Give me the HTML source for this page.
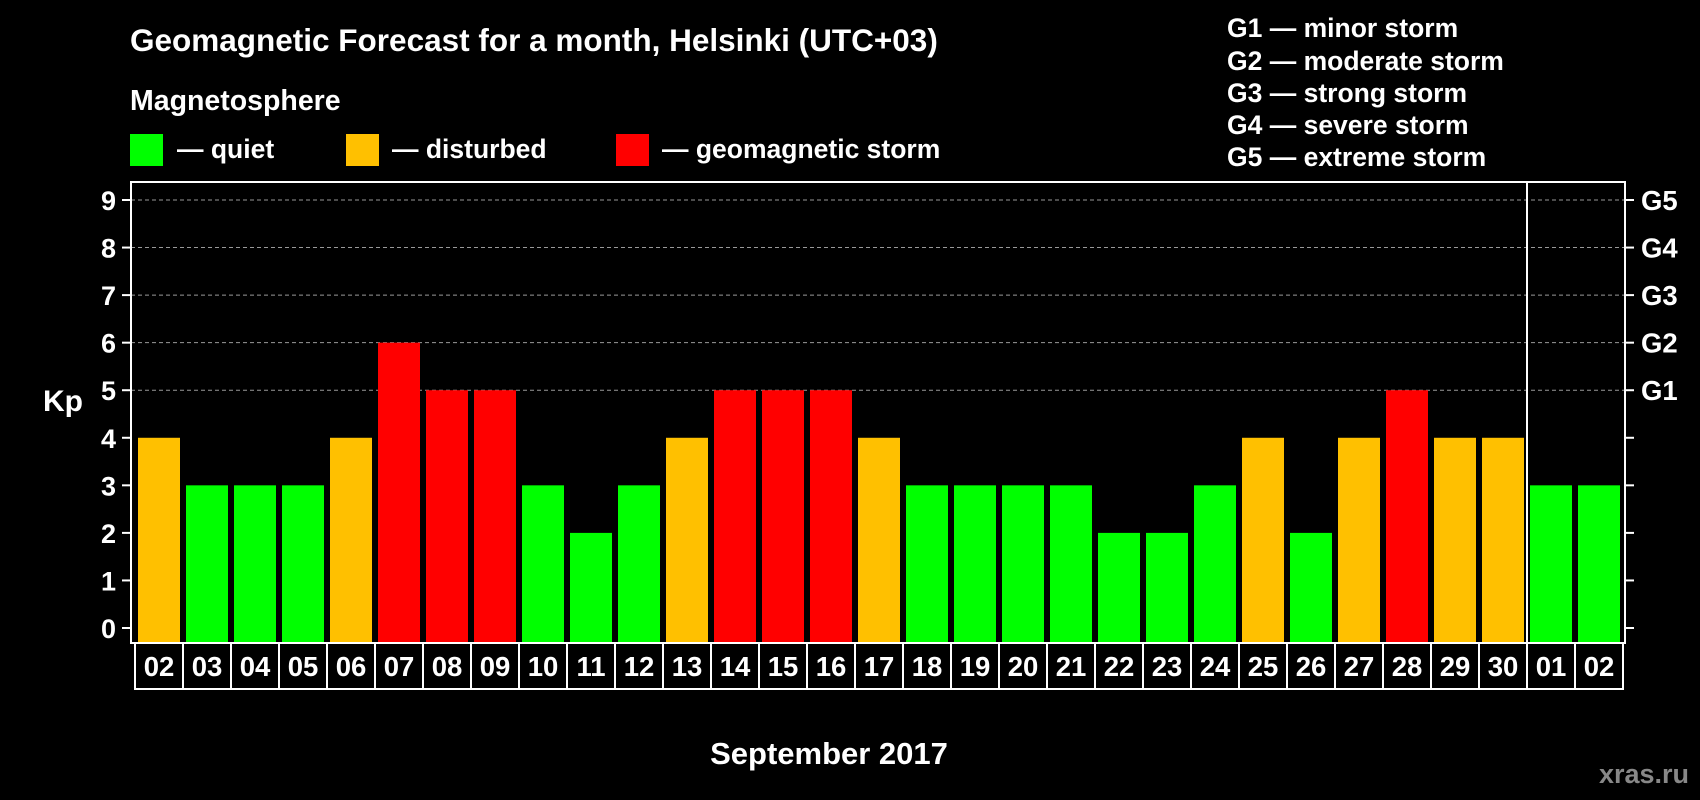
<!DOCTYPE html>
<html><head><meta charset="utf-8"><style>
html,body{margin:0;padding:0;background:#000;}
svg{display:block;font-family:"Liberation Sans",Arial,sans-serif;font-weight:bold;}
</style></head><body>
<svg id="chart" width="1700" height="800" viewBox="0 0 1700 800" xmlns="http://www.w3.org/2000/svg">
<text x="130" y="51" fill="#fff" font-size="31.5">Geomagnetic Forecast for a month, Helsinki (UTC+03)</text>
<text x="130" y="110" fill="#fff" font-size="28.5">Magnetosphere</text>
<g><rect x="130" y="134" width="33" height="32" fill="#00ff00"/><text x="177" y="158" fill="#fff" font-size="26.5">— quiet</text></g>
<g><rect x="346" y="134" width="33" height="32" fill="#ffc000"/><text x="392" y="158" fill="#fff" font-size="26.5">— disturbed</text></g>
<g><rect x="616" y="134" width="33" height="32" fill="#ff0000"/><text x="662" y="158" fill="#fff" font-size="26.5">— geomagnetic storm</text></g>
<g fill="#fff" font-size="26.5">
<text x="1227" y="37">G1 — minor storm</text>
<text x="1227" y="70">G2 — moderate storm</text>
<text x="1227" y="102">G3 — strong storm</text>
<text x="1227" y="134">G4 — severe storm</text>
<text x="1227" y="166">G5 — extreme storm</text>
</g>
<text x="43" y="411" fill="#fff" font-size="30">Kp</text>
<text x="829" y="764" fill="#fff" font-size="31" text-anchor="middle">September 2017</text>
<text x="1689" y="783" fill="#888" font-size="27" text-anchor="end">xras.ru</text>
<g id="grid"></g><g id="bars"></g><g id="axes"></g><g id="xlabels"></g>
</svg>
<script>
const days = ["02","03","04","05","06","07","08","09","10","11","12","13","14","15","16","17","18","19","20","21","22","23","24","25","26","27","28","29","30","01","02"];
const kp = [4,3,3,3,4,6,5,5,3,2,3,4,5,5,5,4,3,3,3,3,2,2,3,4,2,4,5,4,4,3,3];
const yTicks = ["0","1","2","3","4","5","6","7","8","9"];
const gLabels = ["","","","","","G1","G2","G3","G4","G5"];
const monthBreak = 29;

const NS="http://www.w3.org/2000/svg";
const x0=135, pitch=48, y0=628, yStep=(628-200)/9;
const plotL=131, plotR=1625, plotT=182, plotB=643;
const X=i=>x0+i*pitch;
const Y=v=>y0-v*yStep;
function mk(tag,attrs,parent){const e=document.createElementNS(NS,tag);for(const k in attrs)e.setAttribute(k,attrs[k]);parent.appendChild(e);return e;}
const grid=document.getElementById('grid'),bars=document.getElementById('bars'),axes=document.getElementById('axes'),xl=document.getElementById('xlabels');
function color(v){return v>=5?"#ff0000":(v>=4?"#ffc000":"#00ff00");}

yTicks.forEach((t,i)=>{
  const y=Y(+t);
  if(i>=5){const g=mk('line',{x1:plotL,x2:plotR,y1:y,y2:y,stroke:"#999","stroke-dasharray":"4,3","stroke-width":1},grid);
  
  }
  mk('line',{x1:122,x2:plotL,y1:y,y2:y,stroke:"#fff","stroke-width":2},axes);
  mk('line',{x1:plotR,x2:1634,y1:y,y2:y,stroke:"#fff","stroke-width":2},axes);
  const tl=mk('text',{x:116,y:y+10,fill:"#fff","font-size":27,"text-anchor":"end"},axes);tl.textContent=t;
  
  
  if(gLabels[i]){const gl=mk('text',{x:1641,y:y+10,fill:"#fff","font-size":27.5},axes);gl.textContent=gLabels[i];
  
  }
});
kp.forEach((v,i)=>{
  const r=mk('rect',{x:X(i)+3,y:Y(v),width:42,height:plotB-Y(v),fill:color(v)},bars);
  
  
});
const fr=mk('rect',{x:plotL,y:plotT,width:plotR-plotL,height:plotB-plotT,fill:"none",stroke:"#fff","stroke-width":2},axes);


const sep=mk('line',{x1:X(monthBreak),x2:X(monthBreak),y1:plotT,y2:plotB,stroke:"#fff","stroke-width":2},axes);


days.forEach((d,i)=>{
  const b=mk('rect',{x:X(i),y:plotB,width:pitch,height:46,fill:"#000",stroke:"#fff","stroke-width":2},xl);
  
  
  const t=mk('text',{x:X(i)+pitch/2,y:plotB+33,fill:"#fff","font-size":27.5,"text-anchor":"middle"},xl);t.textContent=d;
  
  
});
</script>
</body></html>
